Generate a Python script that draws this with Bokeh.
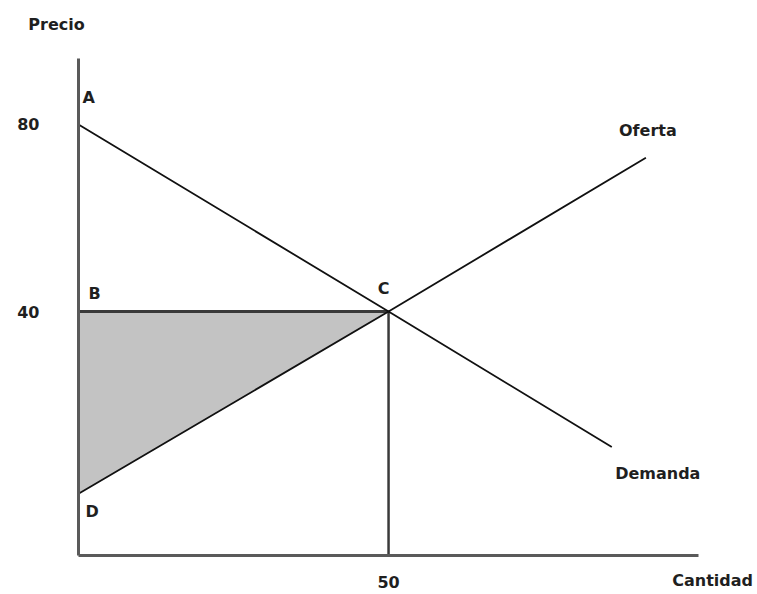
from bokeh.plotting import figure
from bokeh.models import Range1d, FixedTicker, Label
from bokeh.embed import file_html
from bokeh.resources import INLINE

# ---- data ----
demand_q = [0, 50, 86]
demand_p = [80, 40, 11]
supply_q = [0, 50, 91.5]
supply_p = [1, 40, 72.9]
eq_q = 50
eq_p = 40
surplus_q = [0, 50, 0]
surplus_p = [40, 40, 1]
x_ticks = [50]
y_ticks = [40, 80]
x_title = "Cantidad"
y_title = "Precio"
curve_names = ["Oferta", "Demanda"]
point_names = ["A", "B", "C", "D"]

# axis extents (data units) and the visible window around them
X0, X1 = 0, 100
Y0, Y1 = -12.2, 94.1
VX0, VX1 = -12.58, 109.5
VY0, VY1 = -20.53, 106.52

FONT = "DejaVu Sans"
FS = "16px"
TC = "#1f1f1f"
AX = "#5a5a5a"

p = figure(width=757, height=594, output_backend="svg", toolbar_location=None,
           x_range=Range1d(VX0, VX1), y_range=Range1d(VY0, VY1))
p.min_border = 0
p.grid.visible = False
p.outline_line_color = None
p.background_fill_color = "white"

xa, ya = p.xaxis[0], p.yaxis[0]
xa.fixed_location = Y0
ya.fixed_location = X0
xa.bounds = (X0, X1)
ya.bounds = (Y0, Y1)
for ax in (xa, ya):
    ax.axis_line_color = AX
    ax.axis_line_width = 3
    ax.major_tick_line_color = None
    ax.minor_tick_line_color = None
    ax.major_label_text_font = FONT
    ax.major_label_text_font_style = "bold"
    ax.major_label_text_font_size = FS
    ax.major_label_text_color = TC
xa.ticker = FixedTicker(ticks=x_ticks)
ya.ticker = FixedTicker(ticks=y_ticks)
xa.major_label_standoff = 14
ya.major_label_standoff = 33

# shaded producer surplus
p.patch(surplus_q, surplus_p, fill_color="#c3c3c3", line_color=None)

# price line B-C and quantity line C-50
p.line([surplus_q[0], eq_q], [eq_p, eq_p], line_color="#3a3a3a", line_width=3)
p.line([eq_q, eq_q], [eq_p, Y0], line_color="#3a3a3a", line_width=2.5)

# curves
p.line(demand_q, demand_p, line_color="#111111", line_width=1.8)
p.line(supply_q, supply_p, line_color="#111111", line_width=1.8)

def lab(txt, x, y, dx=0, dy=0, align="left"):
    p.add_layout(Label(x=x, y=y, x_offset=dx, y_offset=dy, text=txt,
                       text_font=FONT, text_font_style="bold", text_font_size=FS,
                       text_color=TC, text_align=align, text_baseline="middle"))

lab(y_title, X0, Y1, dx=-22, dy=34, align="center")
lab(x_title, X1, Y0, dx=14, dy=-25, align="center")
lab(point_names[0], demand_q[0], demand_p[0], dx=4, dy=27)
lab(point_names[1], surplus_q[0], eq_p, dx=10, dy=18)
lab(point_names[2], eq_q, eq_p, dx=-5, dy=23, align="center")
lab(point_names[3], supply_q[0], supply_p[0], dx=7, dy=-18)
lab(curve_names[0], supply_q[-1], supply_p[-1], dx=2, dy=27, align="center")
lab(curve_names[1], demand_q[-1], demand_p[-1], dx=46, dy=-26, align="center")

open("out.html", "w").write(file_html(p, INLINE))
